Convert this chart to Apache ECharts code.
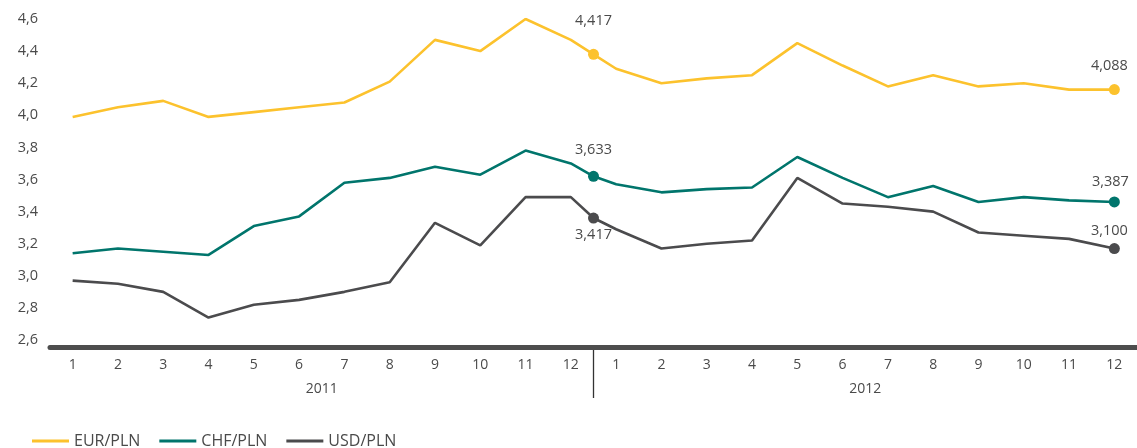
<!DOCTYPE html>
<html><head><meta charset="utf-8">
<script src="https://cdn.jsdelivr.net/npm/echarts@6/dist/echarts.min.js"></script>
<style>html,body{margin:0;padding:0;background:#fff}#c{width:1137px;height:448px}</style>
</head><body><div id="c"></div>
<script>
// Categories (months of 2011 and 2012) and year labels
const months = ['1','2','3','4','5','6','7','8','9','10','11','12','1','2','3','4','5','6','7','8','9','10','11','12'];
const years = ['2011','2012'];
// Point positions along the month axis (12.5 = end of 2011)
const xPos = [1,2,3,4,5,6,7,8,9,10,11,12,12.5,13,14,15,16,17,18,19,20,21,22,23,24];
// Series values
const eur = [3.99,4.05,4.09,3.99,4.02,4.05,4.08,4.21,4.47,4.40,4.60,4.47,4.38,4.29,4.20,4.23,4.25,4.45,4.31,4.18,4.25,4.18,4.20,4.16,4.16];
const chf = [3.14,3.17,3.15,3.13,3.31,3.37,3.58,3.61,3.68,3.63,3.78,3.70,3.62,3.57,3.52,3.54,3.55,3.74,3.61,3.49,3.56,3.46,3.49,3.47,3.46];
const usd = [2.97,2.95,2.90,2.74,2.82,2.85,2.90,2.96,3.33,3.19,3.49,3.49,3.36,3.29,3.17,3.20,3.22,3.61,3.45,3.43,3.40,3.27,3.25,3.23,3.17];
// Highlighted points and their labels
const markIdx = [12, 24];
const eurLabels = ['4,417','4,088'];
const chfLabels = ['3,633','3,387'];
const usdLabels = ['3,417','3,100'];
// Y axis ticks
const yMin = 2.6, yMax = 4.6, yStep = 0.2;

const FONT = 'Open Sans';
const TXT = '#4a4a4a';
const C_EUR = '#fcc22d', C_CHF = '#00756c', C_USD = '#4b4b4d';

function lineSeries(name, vals, color) {
  return {
    name, type: 'line', xAxisIndex: 3, yAxisIndex: 0,
    data: xPos.map((x, i) => [x, vals[i]]),
    symbol: 'none', lineStyle: { width: 2.6, color }, itemStyle: { color }, z: 2
  };
}
function markSeries(vals, labels, color, labelCfg) {
  return {
    type: 'scatter', xAxisIndex: 3, yAxisIndex: 0, symbolSize: 11, z: 3,
    itemStyle: { color, opacity: 1 },
    data: markIdx.map((k, j) => ({
      value: [xPos[k], vals[k]],
      label: Object.assign({ show: true, formatter: labels[j], fontFamily: FONT, fontSize: 14.5, color: TXT }, labelCfg[j])
    }))
  };
}

const chart = echarts.init(document.getElementById('c'));
chart.setOption({
  animation: false,
  grid: { left: 50, right: -4, top: 19, bottom: 108 },
  xAxis: [
    { type: 'category', data: months, position: 'bottom', offset: 7,
      axisLine: { lineStyle: { color: '#4d4d4d', width: 5 } },
      axisTick: { show: false },
      axisLabel: { margin: 11, fontFamily: FONT, fontSize: 14, color: TXT }, z: 1 },
    { type: 'category', data: months, position: 'bottom', offset: 9.5,
      axisLine: { show: false },
      axisTick: { inside: true, length: 5, lineStyle: { color: '#a8a8a8', width: 1 } },
      axisLabel: { show: false }, z: 5 },
    { type: 'category', data: years, position: 'bottom', offset: 7,
      axisLine: { show: false }, axisTick: { show: false },
      axisLabel: { margin: 35, fontFamily: FONT, fontSize: 14, color: TXT } },
    { type: 'value', min: 0.5, max: 24.5, show: false }
  ],
  yAxis: [{
    type: 'value', min: yMin, max: yMax, interval: yStep,
    axisLine: { show: false }, axisTick: { show: false }, splitLine: { show: false },
    axisLabel: { margin: 12, fontFamily: FONT, fontSize: 14.5, color: TXT,
      formatter: v => v.toFixed(1).replace('.', ',') }
  }],
  legend: {
    data: ['EUR/PLN', 'CHF/PLN', 'USD/PLN'],
    icon: 'rect',
    left: 27, top: 428, itemWidth: 37, itemHeight: 3, itemGap: 19,
    textStyle: { fontFamily: FONT, fontSize: 16, color: TXT }
  },
  series: [
    lineSeries('EUR/PLN', eur, C_EUR),
    lineSeries('CHF/PLN', chf, C_CHF),
    lineSeries('USD/PLN', usd, C_USD),
    markSeries(eur, eurLabels, C_EUR, [{ position: 'top', distance: 20 }, { position: 'top', distance: 11, offset: [-5, 0] }]),
    markSeries(chf, chfLabels, C_CHF, [{ position: 'top', distance: 13 }, { position: 'top', distance: 7, offset: [-4, 0] }]),
    markSeries(usd, usdLabels, C_USD, [{ position: 'bottom', distance: 4 }, { position: 'top', distance: 5, offset: [-5, 0] }])
  ]
});
const dx = chart.convertToPixel({ xAxisIndex: 3 }, 12.5);
chart.setOption({
  graphic: [{ type: 'line', shape: { x1: dx, y1: 349, x2: dx, y2: 398 }, style: { stroke: '#333333', lineWidth: 1.3 } }]
});
</script></body></html>
